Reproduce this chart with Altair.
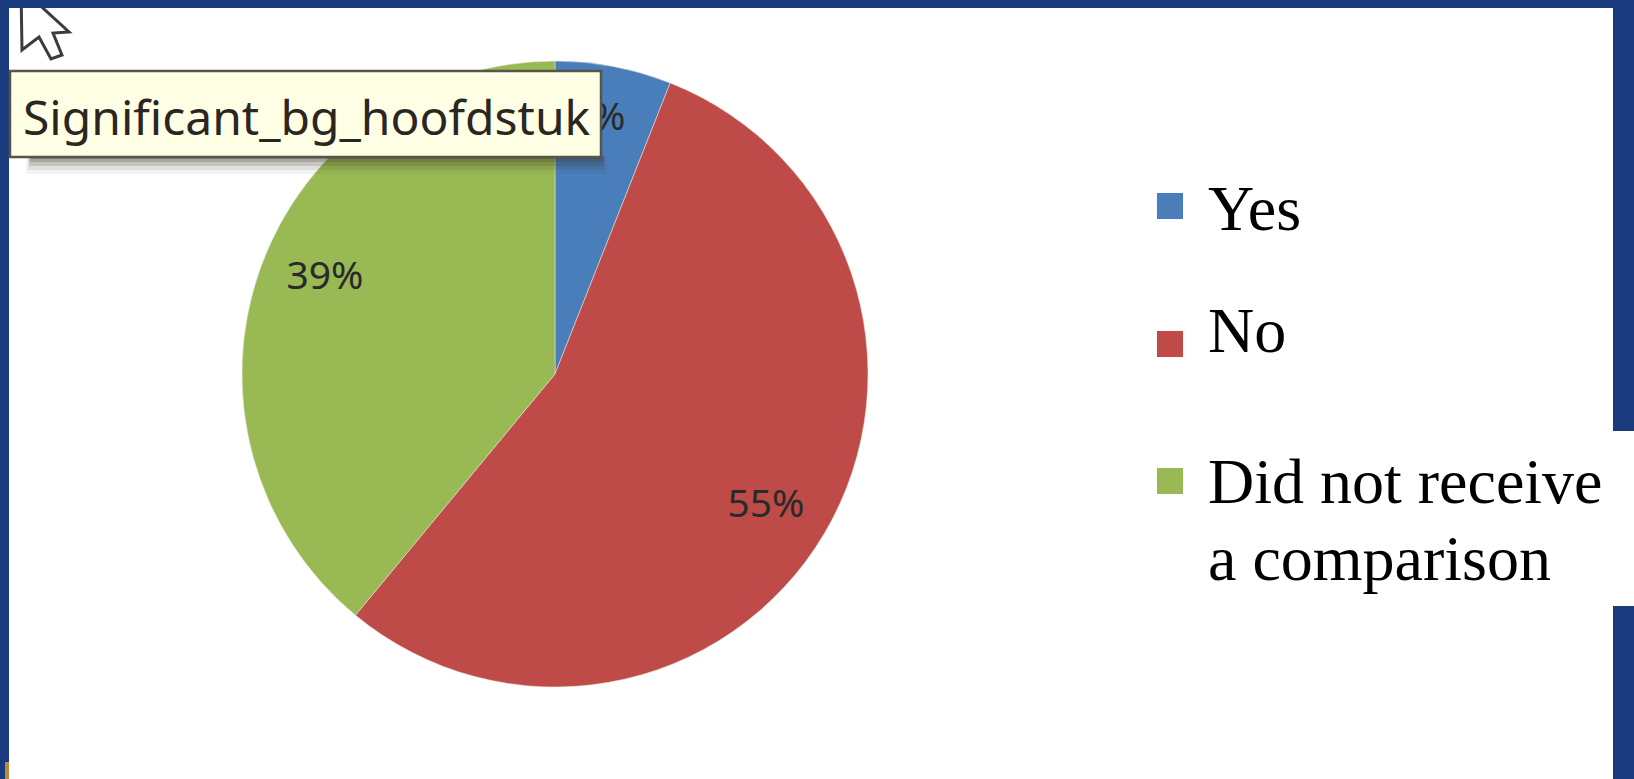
import altair as alt
import pandas as pd

# Survey answers and their shares
categories = ["Yes", "No", "Did not receive a comparison"]
shares = [0.06, 0.55, 0.39]
colors = ["#4A7EBB", "#BE4B48", "#98B954"]
legend_lines = [["Yes"], ["No"], ["Did not receive", "a comparison"]]
hover_label = "Significant_bg_hoofdstuk"

W, H = 1634, 779
NAVY = "#1A3A7E"
CX, CY, R = 555, 374, 313

# Layout of the slide furniture
label_xy = [(598, 118), (766, 505), (325, 277)]
swatch_y = [206, 344, 481]
legend_baselines = [[230], [352], [503, 580]]

df = pd.DataFrame({"answer": categories, "share": shares, "order": range(len(shares))})
blank = alt.Data(values=[{"k": 0}])
color_scale = alt.Scale(domain=categories, range=colors)


def box(x, x2, y, y2, fill, opacity=1.0, **kw):
    return (
        alt.Chart(blank)
        .mark_rect(fill=fill, opacity=opacity, **kw)
        .encode(x=alt.value(x), x2=alt.value(x2), y=alt.value(y), y2=alt.value(y2))
    )


layers = [
    box(0, W, 0, H, NAVY),
    box(9, 1613, 8, H, "#FFFFFF"),
    box(1613, W, 431, 606, "#FFFFFF"),
    box(5, 9, 762, H, "#E79A2C", 0.8),
]

# Pie
layers.append(
    alt.Chart(df)
    .mark_arc(outerRadius=R, stroke="#E8E4D8", strokeWidth=1, strokeOpacity=0.55)
    .encode(
        theta=alt.Theta("share:Q", stack=True),
        order=alt.Order("order:Q"),
        color=alt.Color("answer:N", scale=color_scale, legend=None),
        x=alt.value(CX),
        y=alt.value(CY),
    )
)

# Percentage labels on the slices
for i, (lx, ly) in enumerate(label_xy):
    layers.append(
        alt.Chart(df.iloc[[i]])
        .mark_text(font="Noto Sans", fontSize=39, color="#2A2A2A", align="center", baseline="middle")
        .encode(text=alt.Text("share:Q", format=".0%"), x=alt.value(lx), y=alt.value(ly))
    )

# Legend swatches and labels
for i, ys in enumerate(legend_baselines):
    layers.append(
        alt.Chart(df.iloc[[i]])
        .mark_square(size=680, opacity=1)
        .encode(
            color=alt.Color("answer:N", scale=color_scale, legend=None),
            x=alt.value(1170),
            y=alt.value(swatch_y[i]),
        )
    )
    for line, by in zip(legend_lines[i], ys):
        layers.append(
            alt.Chart(blank)
            .mark_text(font="Liberation Serif", fontSize=64, color="#000000", align="left", baseline="alphabetic")
            .encode(text=alt.value(line), x=alt.value(1208), y=alt.value(by))
        )

# Hover tooltip with its soft drop shadow
for grow, op in [(18, 0.06), (14, 0.10), (10, 0.16), (6, 0.22), (3, 0.3)]:
    layers.append(box(32 - grow // 3, 601 + grow // 3, 156, 156 + grow, "#3A3A2A", op))
layers.append(box(10, 601, 71, 157, "#FFFFE6", stroke="#55554A", strokeWidth=2.5))
layers.append(
    alt.Chart(blank)
    .mark_text(font="Noto Sans", fontSize=48, color="#2B2620", align="left", baseline="alphabetic")
    .encode(text=alt.value(hover_label), x=alt.value(23), y=alt.value(135))
)

# Mouse pointer, clipped by the top band
pointer = "M0 0 L48 44 L32 45 L41 67 L30 71 L18 49 L1 62 Z"
layers.append(
    alt.Chart(blank)
    .mark_point(shape=pointer, size=4, filled=True, fill="#FFFFFF", stroke="#3C3C3C", strokeWidth=3, opacity=1)
    .encode(x=alt.value(21), y=alt.value(-12))
)
layers.append(box(0, W, 0, 8, NAVY))

chart = (
    alt.layer(*layers)
    .properties(width=W, height=H, padding=0, autosize=alt.AutoSizeParams(type="none"), background=NAVY)
    .configure_view(stroke=None)
)

chart.save("out.html", embed_options={"renderer": "svg", "actions": False})
